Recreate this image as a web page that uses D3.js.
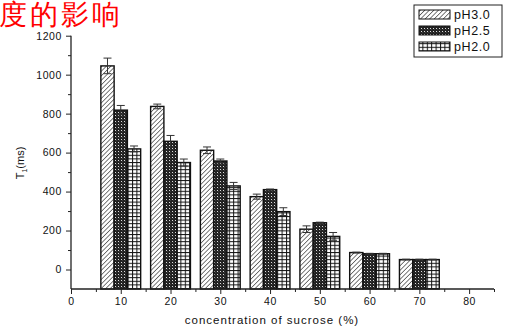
<!DOCTYPE html>
<html>
<head>
<meta charset="utf-8">
<script src="https://cdn.jsdelivr.net/npm/d3@7"></script>
<style>
  html, body { margin: 0; padding: 0; background: #fff; overflow: hidden; }
  svg { display: block; }
  text { font-family: "Liberation Sans", Arial, sans-serif; fill: #111; }
</style>
</head>
<body>
<svg id="chart" width="509" height="331"></svg>
<script>
// Sucrose concentration (%) on the x axis
const concentrations = [10, 20, 30, 40, 50, 60, 70];
const seriesNames = ["pH3.0", "pH2.5", "pH2.0"];
// T1 relaxation time (ms) per series, and its error
const t1_pH30 = [1045, 837, 612, 374, 207, 87, 51];
const t1_pH25 = [818, 658, 557, 410, 240, 81, 51];
const t1_pH20 = [619, 549, 429, 297, 170, 81, 51];
const err_pH30 = [40, 12, 17, 13, 17, 2, 2];
const err_pH25 = [24, 30, 10, 3, 3, 2, 2];
const err_pH20 = [15, 18, 18, 20, 20, 2, 2];
const xTicks = [0, 10, 20, 30, 40, 50, 60, 70, 80];
const yTicks = [0, 200, 400, 600, 800, 1000, 1200];

const values = [t1_pH30, t1_pH25, t1_pH20];
const errors = [err_pH30, err_pH25, err_pH20];
const patterns = ["hatch", "checker", "grid"];

const svg = d3.select("#chart");

// Fill patterns
const defs = svg.append("defs");
const hatch = defs.append("pattern").attr("id", "hatch")
  .attr("patternUnits", "userSpaceOnUse").attr("width", 3.2).attr("height", 3.2)
  .attr("patternTransform", "rotate(45)");
hatch.append("rect").attr("width", 3.2).attr("height", 3.2).attr("fill", "#fff");
hatch.append("line").attr("x1", 0).attr("y1", 0).attr("x2", 0).attr("y2", 3.2)
  .attr("stroke", "#111").attr("stroke-width", 1.1);

const checker = defs.append("pattern").attr("id", "checker")
  .attr("patternUnits", "userSpaceOnUse").attr("width", 3).attr("height", 3);
checker.append("rect").attr("width", 3).attr("height", 3).attr("fill", "#222");
checker.append("rect").attr("x", 1).attr("y", 1).attr("width", 1).attr("height", 1).attr("fill", "#ddd");
checker.append("rect").attr("x", 2.5).attr("y", 2.5).attr("width", 0.5).attr("height", 0.5).attr("fill", "#888");

const grid = defs.append("pattern").attr("id", "grid")
  .attr("patternUnits", "userSpaceOnUse").attr("width", 4.4).attr("height", 3.6);
grid.append("rect").attr("width", 4.4).attr("height", 3.6).attr("fill", "#fff");
grid.append("line").attr("x1", 0).attr("y1", 0.5).attr("x2", 4.4).attr("y2", 0.5)
  .attr("stroke", "#111").attr("stroke-width", 1);
grid.append("line").attr("x1", 0.5).attr("y1", 0).attr("x2", 0.5).attr("y2", 3.6)
  .attr("stroke", "#111").attr("stroke-width", 1);

// Scales
const x = d3.scaleLinear().domain([0, 85]).range([71, 494]);
const y = d3.scaleLinear().domain([-100, 1200]).range([289, 35.7]);
const barW = 8 / 3; // in x units

// Bars
const g = svg.append("g");
values.forEach((vals, si) => {
  vals.forEach((v, i) => {
    const c = concentrations[i];
    const x0 = c - 4 + si * barW;
    g.append("rect")
      .attr("x", x(x0))
      .attr("y", y(v))
      .attr("width", x(x0 + barW) - x(x0))
      .attr("height", y(-100) - y(v))
      .attr("fill", `url(#${patterns[si]})`)
      .attr("stroke", "#111")
      .attr("stroke-width", 1.4);
    // error bar
    const e = errors[si][i];
    const cx = x(x0 + barW / 2);
    const eg = g.append("g").attr("stroke", "#333").attr("stroke-width", 1);
    eg.append("line").attr("x1", cx).attr("x2", cx).attr("y1", y(v - e)).attr("y2", y(v + e));
    eg.append("line").attr("x1", cx - 4).attr("x2", cx + 4).attr("y1", y(v + e)).attr("y2", y(v + e));
    eg.append("line").attr("x1", cx - 4).attr("x2", cx + 4).attr("y1", y(v - e)).attr("y2", y(v - e));
  });
});

// Axes
const xAxis = svg.append("g").attr("transform", `translate(0,${y(-100)})`)
  .call(d3.axisBottom(x).tickValues(xTicks).tickSize(5).tickPadding(4).tickFormat(d3.format("d")));
svg.append("g").attr("transform", `translate(0,${y(-100)})`)
  .call(d3.axisBottom(x).tickValues(d3.range(5, 90, 10)).tickSize(3).tickFormat(""))
  .call(a => a.select(".domain").remove());
const yAxis = svg.append("g").attr("transform", `translate(${x(0)},0)`)
  .call(d3.axisLeft(y).tickValues(yTicks).tickSize(5).tickPadding(4).tickFormat(d3.format("d")));
svg.append("g").attr("transform", `translate(${x(0)},0)`)
  .call(d3.axisLeft(y).tickValues(d3.range(100, 1200, 200)).tickSize(3).tickFormat(""))
  .call(a => a.select(".domain").remove());

svg.selectAll(".domain").attr("stroke", "#222").attr("stroke-width", 1.3);
svg.selectAll(".tick line").attr("stroke", "#222").attr("stroke-width", 1);
svg.selectAll(".tick text").attr("font-size", 10.5).attr("letter-spacing", 0.6)
  .attr("font-family", "Liberation Sans, Arial, sans-serif").attr("fill", "#111");
xAxis.selectAll(".domain").attr("d", `M${x(0)},0H${x(85)}`);
yAxis.selectAll(".domain").attr("d", `M0,${y(1200)}V${y(-100)}`);

// Axis titles
svg.append("text").attr("x", 272).attr("y", 324).attr("text-anchor", "middle")
  .attr("font-size", 11.5).attr("letter-spacing", 1).text("concentration of sucrose (%)");
const yt = svg.append("text").attr("transform", "translate(24,163) rotate(-90)")
  .attr("text-anchor", "middle").attr("font-size", 11);
yt.append("tspan").text("T");
yt.append("tspan").attr("font-size", 7).attr("dy", 3).text("1");
yt.append("tspan").attr("dy", -3).text("(ms)");

// Title fragment
svg.append("text").attr("x", -1).attr("y", 24)
  .attr("font-family", "Noto Sans CJK SC, sans-serif")
  .attr("font-size", 28).attr("letter-spacing", 3).style("fill", "#ff0000").text("度的影响");

// Legend
const lg = svg.append("g");
lg.append("rect").attr("x", 414).attr("y", 5).attr("width", 88).attr("height", 52)
  .attr("fill", "#fff").attr("stroke", "#222").attr("stroke-width", 1);
seriesNames.forEach((name, i) => {
  const yy = 10 + i * 16;
  lg.append("rect").attr("x", 419).attr("y", yy).attr("width", 31).attr("height", 9)
    .attr("fill", `url(#${patterns[i]})`).attr("stroke", "#111").attr("stroke-width", 1);
  lg.append("text").attr("x", 454).attr("y", yy + 9).attr("font-size", 12.5)
    .attr("letter-spacing", 0.6).text(name);
});
</script>
</body>
</html>
